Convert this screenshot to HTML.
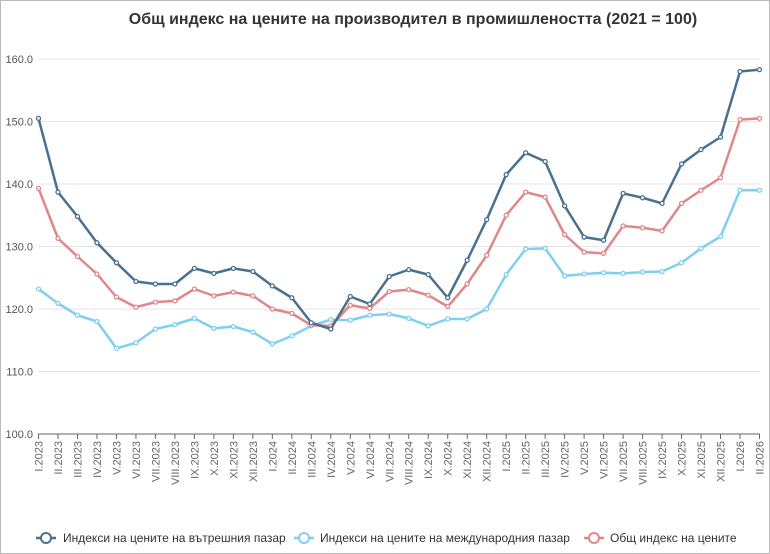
<!DOCTYPE html>
<html><head><meta charset="utf-8"><style>
html,body{margin:0;padding:0;background:#fff}
svg{display:block;font-family:"Liberation Sans","DejaVu Sans",sans-serif}
</style></head><body>
<svg width="770" height="554" viewBox="0 0 770 554" xmlns="http://www.w3.org/2000/svg">
<rect x="0.5" y="0.5" width="769" height="553" fill="#fff" stroke="#bbb"/>
<text x="413" y="24" text-anchor="middle" font-size="16" font-weight="bold" fill="#333">Общ индекс на цените на производител в промишлеността (2021 = 100)</text>
<g id="grid" stroke="#e4e4e4" stroke-width="1"></g>
<g id="ylab" font-size="11" fill="#555" text-anchor="end"></g>
<line x1="38" y1="434" x2="760" y2="434" stroke="#666"/>
<g id="ticks" stroke="#666"></g>
<g id="xlab" font-size="11" fill="#666"></g>
<g id="series"></g>
<g font-size="12" fill="#333">
<line x1="36" y1="538" x2="56" y2="538" stroke="#4a7090" stroke-width="2.5"/><circle cx="46" cy="538" r="5" fill="#fff" stroke="#4a7090" stroke-width="2"/>
<text x="63" y="542">Индекси на цените на вътрешния пазар</text>
<line x1="294" y1="538" x2="314" y2="538" stroke="#7fd0f0" stroke-width="2.5"/><circle cx="304" cy="538" r="5" fill="#fff" stroke="#7fd0f0" stroke-width="2"/>
<text x="320" y="542">Индекси на цените на международния пазар</text>
<line x1="584" y1="538" x2="604" y2="538" stroke="#e0878a" stroke-width="2.5"/><circle cx="594" cy="538" r="5" fill="#fff" stroke="#e0878a" stroke-width="2"/>
<text x="610" y="542">Общ индекс на цените</text>
</g>
</svg>
<script>
const NS="http://www.w3.org/2000/svg";
function el(p,t,a,txt){const e=document.createElementNS(NS,t);for(const k in a)e.setAttribute(k,a[k]);if(txt!==undefined)e.textContent=txt;document.getElementById(p).appendChild(e);return e;}
const Y=v=>434-(v-100)*6.25;
for(let v=110;v<=160;v+=10)el("grid","line",{x1:38,x2:760,y1:Y(v),y2:Y(v)});
for(let v=100;v<=160;v+=10)el("ylab","text",{x:33,y:Y(v)+4},v.toFixed(1));
const R=["I","II","III","IV","V","VI","VII","VIII","IX","X","XI","XII"];
const labs=[];for(let i=0;i<38;i++){labs.push(R[i%12]+"."+(2023+Math.floor(i/12)));}
const X=i=>38.5+i*(721/37);
labs.forEach((l,i)=>{el("ticks","line",{x1:X(i),x2:X(i),y1:434,y2:439});
el("xlab","text",{x:0,y:0,transform:`translate(${X(i)+4},441) rotate(-90)`,"text-anchor":"end"},l);});
const d=[150.5,138.7,134.8,130.6,127.4,124.4,124.0,124.0,126.5,125.7,126.5,126.0,123.7,121.8,117.8,116.8,122.0,120.8,125.2,126.3,125.5,121.8,127.8,134.3,141.5,145.0,143.6,136.5,131.5,131.0,138.5,137.8,136.9,143.2,145.5,147.5,158.0,158.3];
const l=[123.2,120.9,119.0,118.0,113.7,114.6,116.8,117.5,118.5,116.9,117.2,116.3,114.4,115.7,117.3,118.3,118.2,119.0,119.2,118.5,117.3,118.4,118.4,120.0,125.5,129.6,129.7,125.3,125.6,125.8,125.7,125.9,126.0,127.4,129.7,131.6,139.0,139.0];
const r=[139.3,131.3,128.4,125.6,121.9,120.3,121.1,121.3,123.2,122.1,122.7,122.1,120.0,119.3,117.4,117.3,120.6,120.1,122.8,123.1,122.2,120.4,124.0,128.6,135.0,138.7,137.9,131.9,129.1,128.9,133.3,133.0,132.5,136.9,139.0,141.0,150.3,150.5];
[[l,"#7fd0f0"],[r,"#e0878a"],[d,"#4a7090"]].forEach(([s,c])=>{
el("series","polyline",{points:s.map((v,i)=>X(i)+","+Y(v)).join(" "),fill:"none",stroke:c,"stroke-width":2.5,"stroke-linejoin":"round"});
s.forEach((v,i)=>el("series","circle",{cx:X(i),cy:Y(v),r:2,fill:"#fff",stroke:c,"stroke-width":1.3}));});
</script>
</body></html>
